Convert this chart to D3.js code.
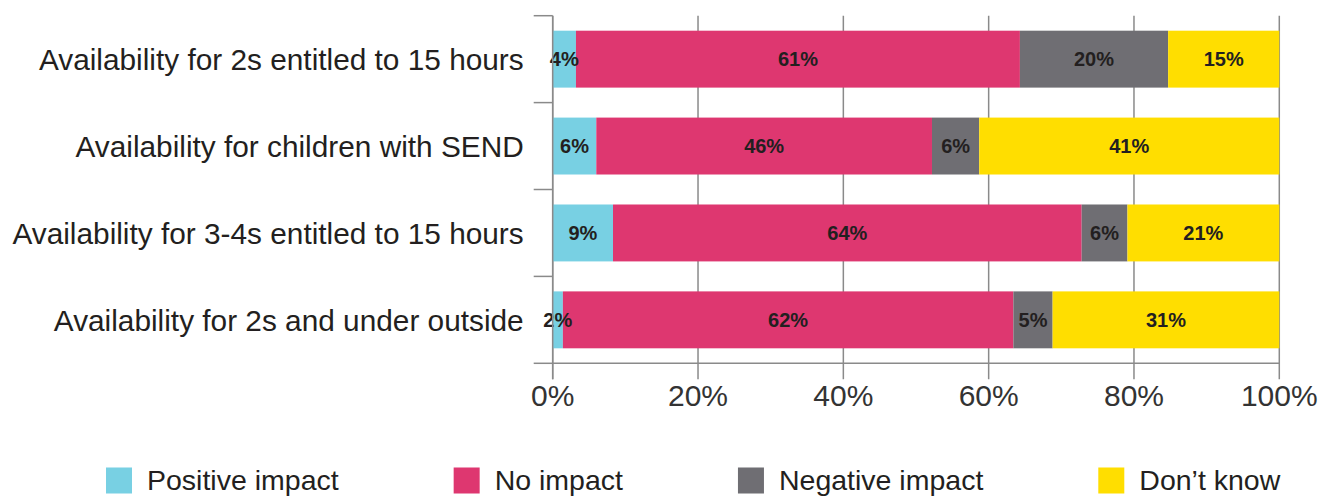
<!DOCTYPE html>
<html>
<head>
<meta charset="utf-8">
<script src="https://cdn.jsdelivr.net/npm/d3@7"></script>
<style>
  body { margin: 0; background: #fff; }
  text { font-family: "Liberation Sans", Arial, sans-serif; fill: #231f20; }
</style>
</head>
<body>
<svg id="chart"></svg>
<script>
// categories, top to bottom
const categories = [
    'Availability for 2s entitled to 15 hours',
    'Availability for children with SEND',
    'Availability for 3-4s entitled to 15 hours',
    'Availability for 2s and under outside'
];
const seriesNames = ['Positive impact', 'No impact', 'Negative impact', 'Don\u2019t know'];

// bar widths (% of respondents)
const positive = [3.2, 6.0, 8.3, 1.4];
const noImpact = [61.1, 46.2, 64.5, 62.0];
const negative = [20.4, 6.5, 6.3, 5.4];
const dontKnow = [15.3, 41.3, 20.9, 31.2];

// printed labels on the bars
const positiveLabels = [4, 6, 9, 2];
const noImpactLabels = [61, 46, 64, 62];
const negativeLabels = [20, 6, 6, 5];
const dontKnowLabels = [15, 41, 21, 31];

const xTicks = [0, 20, 40, 60, 80, 100];
const colors = ['#78d0e3', '#de3770', '#6f6e73', '#ffde00'];

const width = 1322, height = 496;
const margin = {top: 15.7, left: 552.7, right: 42.7, bottom: 132.7};

const svg = d3.select('#chart')
    .attr('width', width)
    .attr('height', height);

const xScale = d3.scaleLinear()
    .domain([0, 100])
    .range([margin.left, width - margin.right]);

const yScale = d3.scaleBand()
    .domain(categories)
    .range([margin.top, height - margin.bottom])
    .paddingInner(0.345)
    .paddingOuter(0.1725);

const yTop = margin.top, yBottom = height - margin.bottom;
const step = yScale.step();

// build stacked table
const table = categories.map((c, i) => ({
    cat: c,
    vals: [positive[i], noImpact[i], negative[i], dontKnow[i]],
    labels: [positiveLabels[i], noImpactLabels[i], negativeLabels[i], dontKnowLabels[i]]
}));
const segs = [];
table.forEach(row => {
    let x0 = 0;
    row.vals.forEach((v, k) => {
        segs.push({cat: row.cat, k: k, x0: x0, x1: x0 + v, label: row.labels[k]});
        x0 += v;
    });
});

// vertical gridlines (extend below the axis as ticks)
svg.append('g')
    .selectAll('line')
    .data(xTicks)
    .join('line')
    .attr('x1', d => xScale(d))
    .attr('x2', d => xScale(d))
    .attr('y1', yTop)
    .attr('y2', yBottom + 16)
    .attr('stroke', '#8a8a8a')
    .attr('stroke-width', 1.5);

// bars
svg.append('g')
    .selectAll('rect')
    .data(segs)
    .join('rect')
    .attr('x', d => xScale(d.x0))
    .attr('width', d => xScale(d.x1) - xScale(d.x0))
    .attr('y', d => yScale(d.cat))
    .attr('height', yScale.bandwidth())
    .attr('fill', d => colors[d.k]);

// bar labels
svg.append('g')
    .selectAll('text')
    .data(segs)
    .join('text')
    .attr('x', d => xScale((d.x0 + d.x1) / 2))
    .attr('y', d => yScale(d.cat) + yScale.bandwidth() / 2)
    .attr('dy', '0.36em')
    .attr('text-anchor', 'middle')
    .style('font-size', '20px')
    .style('font-weight', 'bold')
    .text(d => d.label + '%');

// left axis line + ticks at band boundaries
svg.append('line')
    .attr('x1', xScale(0)).attr('x2', xScale(0))
    .attr('y1', yTop).attr('y2', yBottom + 16)
    .attr('stroke', '#8a8a8a')
    .attr('stroke-width', 1.5);

svg.append('g')
    .selectAll('line')
    .data(d3.range(categories.length + 1))
    .join('line')
    .attr('x1', xScale(0) - 19)
    .attr('x2', xScale(0))
    .attr('y1', i => yTop + i * step)
    .attr('y2', i => yTop + i * step)
    .attr('stroke', '#8a8a8a')
    .attr('stroke-width', 1.5);

// bottom axis line
svg.append('line')
    .attr('x1', xScale(0)).attr('x2', xScale(100))
    .attr('y1', yBottom).attr('y2', yBottom)
    .attr('stroke', '#8a8a8a')
    .attr('stroke-width', 1.5);

// category labels
svg.append('g')
    .selectAll('text')
    .data(categories)
    .join('text')
    .attr('x', xScale(0) - 29)
    .attr('y', d => yScale(d) + yScale.bandwidth() / 2)
    .attr('dy', '0.36em')
    .attr('text-anchor', 'end')
    .style('font-size', '29.8px')
    .text(d => d);

// x tick labels
svg.append('g')
    .selectAll('text')
    .data(xTicks)
    .join('text')
    .attr('x', d => xScale(d))
    .attr('y', 406)
    .attr('text-anchor', 'middle')
    .style('font-size', '30px')
    .style('fill', '#333')
    .text(d => d + '%');

// legend
const legend = svg.append('g');
let lx = 106;
seriesNames.forEach((name, k) => {
    legend.append('rect')
        .attr('x', lx)
        .attr('y', 467.5)
        .attr('width', 26)
        .attr('height', 26)
        .attr('fill', colors[k]);
    const t = legend.append('text')
        .attr('x', lx + 41)
        .attr('y', 490)
        .style('font-size', '28.5px')
        .text(name);
    lx += 41 + t.node().getComputedTextLength() + 115;
});
</script>
</body>
</html>
